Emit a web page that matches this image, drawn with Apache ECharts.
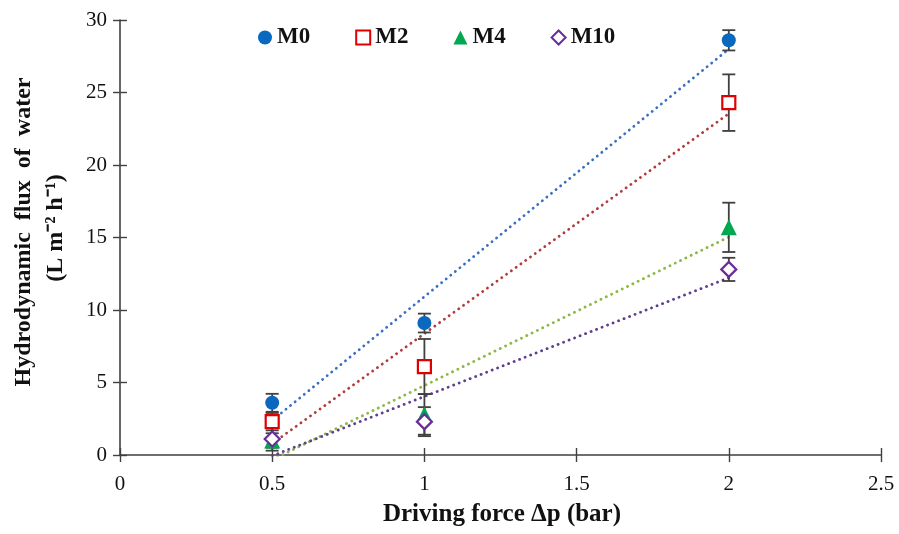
<!DOCTYPE html>
<html>
<head>
<meta charset="utf-8">
<script src="https://cdn.jsdelivr.net/npm/echarts@6/dist/echarts.min.js"></script>
<style>
  html, body { margin: 0; padding: 0; background: #fff; }
  #chart { width: 899px; height: 534px; }
</style>
</head>
<body>
<div id="chart"></div>
<script>
// driving force (bar)
var xValues = [0.5, 1, 2];
var xTicks = [0, 0.5, 1, 1.5, 2, 2.5];

// mean flux and error
var m0 = [3.6, 9.1, 28.6];
var m0Err = [0.62, 0.65, 0.7];
var m2 = [2.3, 6.1, 24.3];
var m2Err = [0.6, 1.9, 1.95];
var m4 = [1.0, 2.8, 15.7];
var m4Err = [0.5, 1.4, 1.7];
var m10 = [1.1, 2.3, 12.8];
var m10Err = [0.8, 1.0, 0.8];

var font = "Liberation Serif";
var axisColor = "#404040";

// linear trendline (least squares) like excel
function trend(ys) {
  var n = xValues.length, mx = 0, my = 0;
  for (var i = 0; i < n; i++) { mx += xValues[i]; my += ys[i]; }
  mx /= n; my /= n;
  var sxy = 0, sxx = 0;
  for (var i = 0; i < n; i++) {
    sxy += (xValues[i] - mx) * (ys[i] - my);
    sxx += (xValues[i] - mx) * (xValues[i] - mx);
  }
  var k = sxy / sxx, b = my - k * mx;
  var x0 = xValues[0], x1 = xValues[n - 1];
  return [[x0, k * x0 + b], [x1, k * x1 + b]];
}

function pts(ys) {
  return xValues.map(function (x, i) { return [x, ys[i]]; });
}

function errSeries(ys, errs) {
  return {
    type: "custom",
    z: 3,
    silent: true,
    data: xValues.map(function (x, i) { return [x, ys[i] - errs[i], ys[i] + errs[i]]; }),
    renderItem: function (params, api) {
      var lo = api.coord([api.value(0), api.value(1)]);
      var hi = api.coord([api.value(0), api.value(2)]);
      var w = 6.5;
      var st = { stroke: axisColor, lineWidth: 1.8 };
      return {
        type: "group",
        children: [
          { type: "line", shape: { x1: lo[0], y1: lo[1], x2: hi[0], y2: hi[1] }, style: st },
          { type: "line", shape: { x1: lo[0] - w, y1: lo[1], x2: lo[0] + w, y2: lo[1] }, style: st },
          { type: "line", shape: { x1: hi[0] - w, y1: hi[1], x2: hi[0] + w, y2: hi[1] }, style: st }
        ]
      };
    }
  };
}

function trendSeries(ys, color) {
  return {
    type: "line",
    data: trend(ys),
    showSymbol: false,
    silent: true,
    clip: true,
    z: 2,
    lineStyle: { color: color, width: 2.8, type: [0.1, 5.8], cap: "round" }
  };
}

var chart = echarts.init(document.getElementById("chart"));
chart.setOption({
  animation: false,
  grid: { left: 120, right: 18, top: 20, bottom: 79 },
  legend: {
    data: ["M0", "M2", "M4", "M10"],
    left: 253,
    top: 21,
    itemWidth: 14,
    itemHeight: 14,
    itemGap: 45,
    textStyle: { fontFamily: font, fontWeight: "bold", fontSize: 23, color: "#111" }
  },
  xAxis: [{
    type: "value",
    min: 0, max: 2.5, interval: 0.5,
    axisLine: { lineStyle: { color: axisColor, width: 1.6 } },
    axisTick: { length: 7, lineStyle: { color: axisColor, width: 1.4 } },
    splitLine: { show: false },
    axisLabel: {
      margin: 19, fontFamily: font, fontSize: 21, color: "#111",
      formatter: function (v) { return xTicks.indexOf(v) >= 0 ? String(v) : ""; }
    }
  }, {
    type: "value", position: "bottom",
    min: 0, max: 2.5, interval: 0.5,
    axisLine: { show: false },
    axisTick: { inside: true, length: 7, lineStyle: { color: axisColor, width: 1.4 } },
    axisLabel: { show: false },
    splitLine: { show: false }
  }],
  yAxis: [{
    type: "value",
    min: 0, max: 30, interval: 5,
    axisLine: { show: true, lineStyle: { color: axisColor, width: 1.6 } },
    axisTick: { show: true, length: 7, lineStyle: { color: axisColor, width: 1.4 } },
    splitLine: { show: false },
    axisLabel: { margin: 13, fontFamily: font, fontSize: 21, color: "#111" }
  }, {
    type: "value", position: "left",
    min: 0, max: 30, interval: 5,
    axisLine: { show: false },
    axisTick: { show: true, inside: true, length: 7, lineStyle: { color: axisColor, width: 1.4 } },
    axisLabel: { show: false },
    splitLine: { show: false }
  }],
  graphic: [{
    type: "text",
    x: 24, y: 232,
    rotation: Math.PI / 2,
    style: {
      text: "Hydrodynamic  flux  of  water",
      font: "bold 24px '" + font + "'",
      fill: "#111", align: "center", verticalAlign: "middle"
    }
  }, {
    type: "text",
    x: 56, y: 228,
    rotation: Math.PI / 2,
    style: {
      text: "(L m\u207B\u00B2 h\u207B\u00B9)",
      font: "bold 24px '" + font + "'",
      fill: "#111", align: "center", verticalAlign: "middle"
    }
  }, {
    type: "text",
    x: 502, y: 515,
    style: {
      text: "Driving force \u0394p (bar)",
      font: "bold 25px '" + font + "'",
      fill: "#111", align: "center", verticalAlign: "middle"
    }
  }],
  series: [
    trendSeries(m0, "#3A6FC0"),
    trendSeries(m2, "#B33A3A"),
    trendSeries(m4, "#8DB848"),
    trendSeries(m10, "#5E3F8F"),
    errSeries(m0, m0Err),
    errSeries(m2, m2Err),
    errSeries(m4, m4Err),
    errSeries(m10, m10Err),
    {
      name: "M0", type: "scatter", z: 5, data: pts(m0),
      symbol: "circle", symbolSize: 14,
      itemStyle: { color: "#0A68BE", opacity: 1 }
    },
    {
      name: "M2", type: "scatter", z: 5, data: pts(m2),
      symbol: "rect", symbolSize: 13,
      itemStyle: { color: "#fff", borderColor: "#E00000", borderWidth: 2.2, opacity: 1 }
    },
    {
      name: "M4", type: "scatter", z: 5, data: pts(m4),
      symbol: "triangle", symbolSize: 16,
      itemStyle: { color: "#00A84F", opacity: 1 }
    },
    {
      name: "M10", type: "scatter", z: 6, data: pts(m10),
      symbol: "diamond", symbolSize: 15,
      itemStyle: { color: "#fff", borderColor: "#6A2C9A", borderWidth: 2.2, opacity: 1 }
    }
  ]
});
</script>
</body>
</html>
